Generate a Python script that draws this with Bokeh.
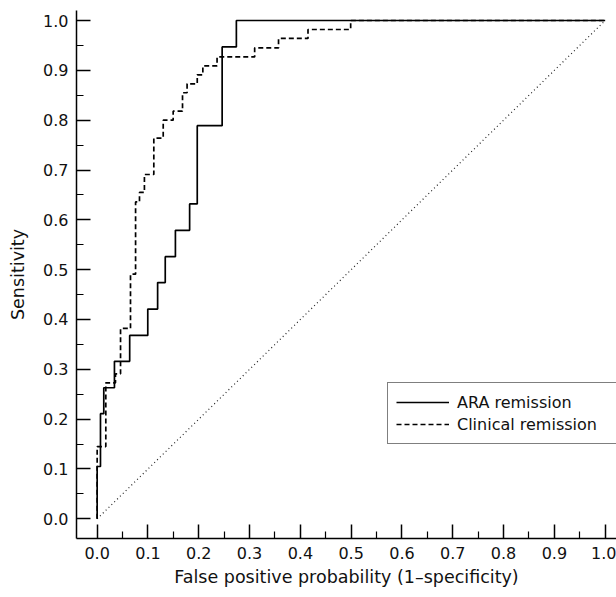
from bokeh.plotting import figure
from bokeh.models import Range1d, FixedTicker, PrintfTickFormatter, Legend, LegendItem
from bokeh.embed import file_html
from bokeh.resources import INLINE

# ---- data ----
ara_fpr = [0.0, 0.0, 0.0065, 0.013, 0.034, 0.064, 0.0996, 0.119, 0.134, 0.154,
           0.182, 0.197, 0.246, 0.274, 1.0]
ara_tpr = [0.0, 0.105, 0.211, 0.263, 0.316, 0.368, 0.421, 0.474, 0.526, 0.579,
           0.632, 0.789, 0.947, 1.0, 1.0]

clin_fpr = [0.0, 0.0, 0.017, 0.036, 0.046, 0.0656, 0.0756, 0.0833, 0.093, 0.1115,
            0.130, 0.1496, 0.168, 0.177, 0.197, 0.208, 0.236, 0.310, 0.357, 0.415,
            0.499, 1.0]
clin_tpr = [0.0, 0.145, 0.273, 0.291, 0.382, 0.491, 0.636, 0.655, 0.691, 0.764,
            0.800, 0.818, 0.855, 0.873, 0.891, 0.909, 0.927, 0.945, 0.964, 0.982,
            1.0, 1.0]

diag_x = [0.0, 1.0]
diag_y = [0.0, 1.0]

major_ticks = [0.0, 0.1, 0.2, 0.3, 0.4, 0.5, 0.6, 0.7, 0.8, 0.9, 1.0]
minor_ticks = [0.05, 0.15, 0.25, 0.35, 0.45, 0.55, 0.65, 0.75, 0.85, 0.95]

series_labels = ["ARA remission", "Clinical remission"]
x_title = "False positive probability (1\u2013specificity)"
y_title = "Sensitivity"

FONT = "DejaVu Sans"

p = figure(width=616, height=597, output_backend="svg", toolbar_location=None,
           x_range=Range1d(-0.0407, 1.0223), y_range=Range1d(-0.0395, 1.0201),
           min_border_left=76, min_border_right=0, min_border_top=10,
           min_border_bottom=59)
p.outline_line_color = None
p.xgrid.visible = False
p.ygrid.visible = False
p.background_fill_color = "white"
p.border_fill_color = "white"

r_diag = p.line(diag_x, diag_y, line_color="#222222", line_width=1.2, line_dash="1 3")
r_ara = p.step(ara_fpr, ara_tpr, mode="after", line_color="black", line_width=1.7)
r_clin = p.step(clin_fpr, clin_tpr, mode="after", line_color="black", line_width=1.7,
                line_dash="5 3")

for ax in (p.xaxis[0], p.yaxis[0]):
    ax.ticker = FixedTicker(ticks=major_ticks, minor_ticks=minor_ticks)
    ax.formatter = PrintfTickFormatter(format="%.1f")
    ax.major_tick_in = 14
    ax.major_tick_out = 0
    ax.minor_tick_in = 7
    ax.minor_tick_out = 0
    ax.axis_line_width = 1.5
    ax.major_tick_line_width = 1.5
    ax.minor_tick_line_width = 1.2
    ax.axis_line_color = "black"
    ax.major_tick_line_color = "black"
    ax.minor_tick_line_color = "black"
    ax.major_label_text_font = FONT
    ax.major_label_text_font_size = "16px"
    ax.major_label_text_color = "#111111"
    ax.axis_label_text_font = FONT
    ax.axis_label_text_font_size = "17.5px"
    ax.axis_label_text_font_style = "normal"
    ax.axis_label_text_color = "#111111"

p.xaxis.axis_label = x_title
p.yaxis.axis_label = y_title
p.xaxis.major_label_standoff = 8
p.xaxis.axis_label_standoff = 5
p.yaxis.major_label_standoff = 8
p.yaxis.axis_label_standoff = 12

legend = Legend(items=[LegendItem(label=series_labels[0], renderers=[r_ara]),
                       LegendItem(label=series_labels[1], renderers=[r_clin])],
                location=(311, 94))
legend.border_line_color = "black"
legend.border_line_width = 1
legend.background_fill_color = "white"
legend.background_fill_alpha = 1
legend.padding = 8
legend.spacing = 0
legend.margin = 0
legend.glyph_width = 53
legend.glyph_height = 22
legend.label_height = 22
legend.label_width = 162
legend.label_standoff = 8
legend.label_text_font = FONT
legend.label_text_font_size = "16px"
legend.label_text_color = "#111111"
p.add_layout(legend)

open("out.html", "w").write(file_html(p, INLINE))
